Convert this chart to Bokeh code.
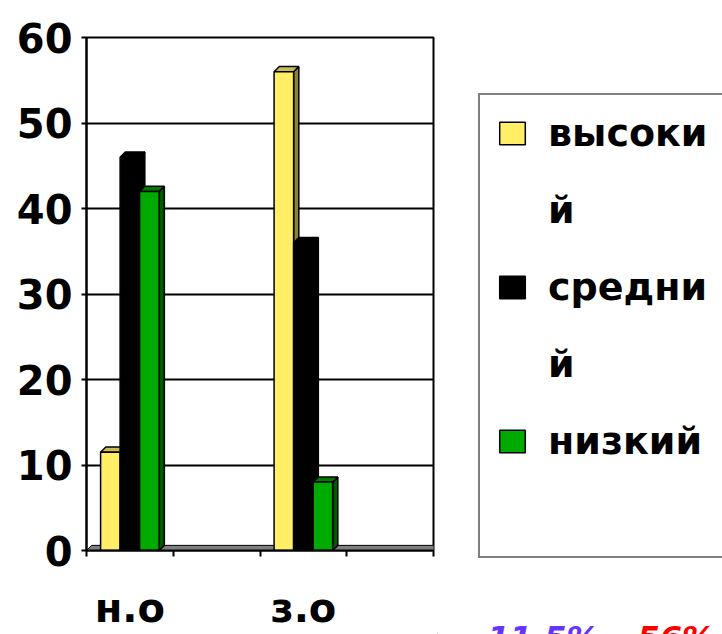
from bokeh.plotting import figure
from bokeh.models import FixedTicker, Legend, LegendItem, Label, Range1d
from bokeh.embed import file_html
from bokeh.resources import INLINE

# ---- data ----
categories = ["н.о", "з.о"]
series_names = ["высокий", "средний", "низкий"]
high = [11.5, 56]
medium = [46, 36]
low = [42, 8]
y_ticks = [0, 10, 20, 30, 40, 50, 60]
note_texts = ["11,5%", "56%"]

series_values = [high, medium, low]
front_colors = ["#FFEE66", "#000000", "#00AA00"]
side_colors = ["#8C8040", "#000000", "#005A00"]
top_colors = ["#C8BC5A", "#000000", "#007A00"]
note_colors = ["#6633FF", "#FF0000"]

FONT = "DejaVu Sans"
H = 634
W1, W2 = 437, 285

# ---------------- chart ----------------
p = figure(width=W1, height=H, output_backend="svg", toolbar_location=None,
           x_range=Range1d(0, 4), y_range=Range1d(0, 60),
           min_border_left=86, min_border_right=4,
           min_border_top=37, min_border_bottom=84)
p.styles = {"position": "absolute", "left": "0px", "top": "0px"}
p.background_fill_color = "white"
p.border_fill_color = "white"
p.outline_line_color = "black"
p.outline_line_width = 2

p.yaxis.ticker = FixedTicker(ticks=y_ticks)
p.yaxis.major_label_text_font = FONT
p.yaxis.major_label_text_font_style = "bold"
p.yaxis.major_label_text_font_size = "40px"
p.yaxis.major_label_text_color = "black"
p.yaxis.major_tick_out = 5
p.yaxis.major_tick_in = 0
p.yaxis.minor_tick_out = 0
p.yaxis.minor_tick_in = 0
p.yaxis.major_label_standoff = 9
p.yaxis.axis_line_width = 2
p.yaxis.major_tick_line_width = 2

slots = [2 * i + 0.5 for i in range(len(categories))]
p.xaxis.ticker = FixedTicker(ticks=slots, minor_ticks=[0, 1, 2, 3, 4])
p.xaxis.major_label_overrides = {s: c for s, c in zip(slots, categories)}
p.xaxis.major_label_text_font = FONT
p.xaxis.major_label_text_font_style = "bold"
p.xaxis.major_label_text_font_size = "40px"
p.xaxis.major_label_text_color = "black"
p.xaxis.major_tick_out = 0
p.xaxis.major_tick_in = 0
p.xaxis.minor_tick_out = 6
p.xaxis.minor_tick_in = 0
p.xaxis.minor_tick_line_width = 2
p.xaxis.minor_tick_line_color = "black"
p.xaxis.major_label_standoff = 28
p.xaxis.axis_line_width = 2

p.xgrid.visible = False
p.ygrid.grid_line_color = "black"
p.ygrid.grid_line_width = 2
p.ygrid.grid_line_alpha = 1

bw = 0.225
dx, dy = 0.06, 0.6

# grey floor of the pseudo-3D chart
p.patch([0, 4, 4 + dx, dx], [0, 0, dy, dy], fill_color="#808080", line_color="black", line_width=1)

# bars with a pseudo-3D side and top
for s, vals in enumerate(series_values):
    xc = [sl + (s - 1) * bw for sl in slots]
    lefts = [x - bw / 2 for x in xc]
    rights = [x + bw / 2 for x in xc]
    side_xs = [[r, r + dx, r + dx, r] for r in rights]
    side_ys = [[0, dy, v + dy, v] for v in vals]
    top_xs = [[l, l + dx, r + dx, r] for l, r in zip(lefts, rights)]
    top_ys = [[v, v + dy, v + dy, v] for v in vals]
    p.patches(side_xs, side_ys, fill_color=side_colors[s], line_color="black", line_width=1.5)
    p.patches(top_xs, top_ys, fill_color=top_colors[s], line_color="black", line_width=1.5)
    p.vbar(x=xc, top=vals, width=bw, bottom=0, fill_color=front_colors[s],
           line_color="black", line_width=1.5)

# ---------------- legend panel ----------------
q = figure(width=W2, height=H, output_backend="svg", toolbar_location=None,
           x_range=Range1d(0, 1), y_range=Range1d(0, 1),
           x_axis_location=None, y_axis_location=None, min_border=0)
q.styles = {"position": "absolute", "left": f"{W1}px", "top": "0px"}
q.outline_line_color = None
q.grid.visible = False
q.background_fill_color = "white"
q.border_fill_color = "white"

# legend swatches (placed outside the visible range; only their legend glyphs show)
swatches = [q.vbar(x=[-10], top=[-10], bottom=[-11], width=1, fill_color=c,
                   line_color="black", line_width=1.5)
            for c in front_colors]
blank = q.scatter([-10], [-10], fill_alpha=0, line_alpha=0)
items = []
for name, r in zip(series_names, swatches):
    head, tail = name[:6], name[6:]
    items.append(LegendItem(label=head, renderers=[r]))
    if tail:
        items.append(LegendItem(label=tail, renderers=[blank]))
items.append(LegendItem(label=" ", renderers=[blank]))

legend = Legend(items=items, location=(478 - W1, H - 558),
                border_line_color="black", border_line_width=2,
                background_fill_color="white", background_fill_alpha=1,
                padding=16, spacing=33, margin=0,
                glyph_width=32, glyph_height=28, label_standoff=20,
                label_width=200, label_height=44,
                label_text_font=FONT, label_text_font_style="bold",
                label_text_font_size="38px", label_text_color="black")
q.add_layout(legend)

for txt, col, xs in zip(note_texts, note_colors, [487, 637]):
    q.add_layout(Label(x=xs - W1, y=H - 618, x_units="screen", y_units="screen",
                       text=txt, text_color=col, text_font=FONT,
                       text_font_style="bold italic", text_font_size="32px",
                       text_baseline="top", text_align="left"))

open("out.html", "w").write(file_html([p, q], INLINE))
